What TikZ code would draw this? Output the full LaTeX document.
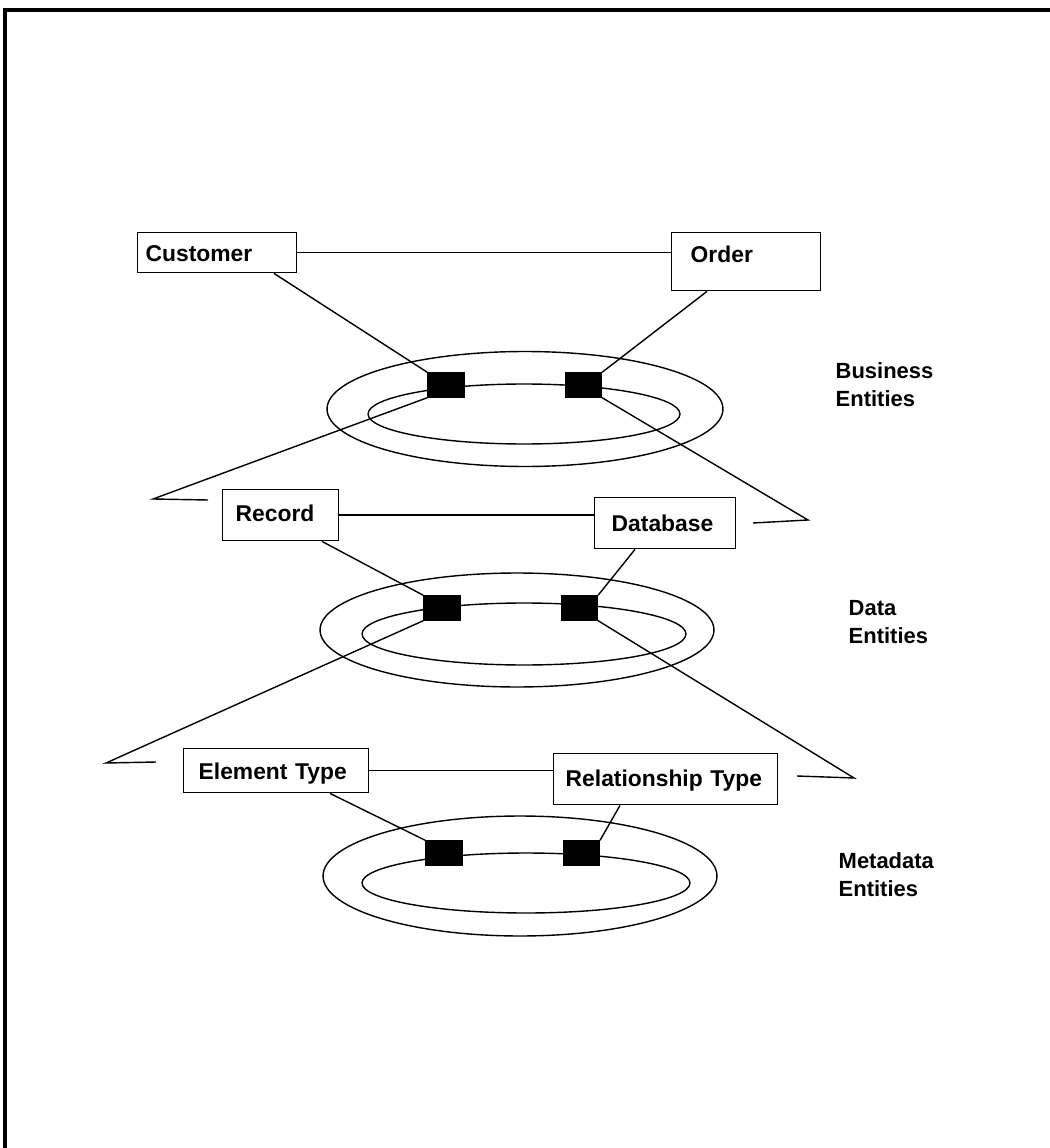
\documentclass[tikz,border=0pt]{standalone}
\usepackage{fontspec}
\setmainfont{Liberation Sans}
\usetikzlibrary{positioning}
\tikzset{
  entbox/.style = {draw=black, anchor=north west, align=left, inner ysep=0pt,
    font=\fontsize{13}{16}\selectfont\bfseries},% entity box
  keysq/.style = {rectangle, fill=black, draw=black, inner sep=0pt,
    minimum width=0.72cm, minimum height=0.48cm},% black key on the ring
  lvl_lbl/.style = {anchor=north west, align=left, inner sep=0pt,
    font=\fontsize{12.5}{16}\selectfont\bfseries}% level label
}
\begin{document}
\begin{tikzpicture}[x=0.02cm, y=-0.02cm, line width=0.8pt]
  \useasboundingbox (0,0) rectangle (1050,1148);
  \draw[line width=1.8pt] (5,1148) -- (5,10) -- (1050,10);

  % business entities
  \node[entbox, text width=2.86cm, inner xsep=0.16cm, text height=0.57cm, text depth=0.23cm]
    (customer) at (137,232) {Customer};
  \node[entbox, text width=2.22cm, inner xsep=0.38cm, text height=0.59cm, text depth=0.57cm]
    (order) at (671,232) {Order};
  \draw (customer.east) -- (customer.east -| order.west);
  \draw (525,409) ellipse [x radius=3.96cm, y radius=1.15cm];
  \draw (524,414) ellipse [x radius=3.12cm, y radius=0.6cm];
  \node[keysq] (bsq1) at (446,385) {};
  \node[keysq, right=2cm of bsq1] (bsq2) {};
  \draw ([xshift=2.74cm]customer.south west) -- (bsq1.north west);
  \draw ([xshift=0.72cm]order.south west) -- (bsq2.north east);
  \node[lvl_lbl] (busl) at (835,362) {Business\\Entities};

  % data entities
  \node[entbox, text width=1.8cm, inner xsep=0.26cm, text height=0.63cm, text depth=0.39cm]
    (record) at (222,489) {Record};
  \node[entbox, text width=2.14cm, inner xsep=0.34cm, text height=0.67cm, text depth=0.35cm]
    (database) at (594,497) {Database};
  \draw (record.east) -- (record.east -| database.west);
  \coordinate (btipl) at (153,499);
  \coordinate (btipr) at (808,520);
  \draw (bsq1.south west) -- (btipl) -- (208,500);
  \draw (bsq2.south east) -- (btipr) -- (753,523);
  \draw (517,630) ellipse [x radius=3.94cm, y radius=1.14cm];
  \draw (524,634) ellipse [x radius=3.24cm, y radius=0.62cm];
  \node[keysq] (dsq1) at (442,608) {};
  \node[keysq, right=2cm of dsq1] (dsq2) {};
  \draw ([xshift=2.0cm]record.south west) -- (dsq1.north west);
  \draw ([xshift=0.82cm]database.south west) -- (dsq2.north east);
  \node[lvl_lbl] (datl) at (848,600) {Data\\Entities};

  % metadata entities
  \node[entbox, text width=3.1cm, inner xsep=0.3cm, text height=0.61cm, text depth=0.27cm]
    (elemtype) at (183,748) {Element~Type};
  \node[entbox, text width=4.0cm, inner xsep=0.24cm, text height=0.65cm, text depth=0.37cm]
    (reltype) at (553,753) {Relationship~Type};
  \draw (elemtype.east) -- (elemtype.east -| reltype.west);
  \coordinate (dtipl) at (106,763);
  \coordinate (dtipr) at (854,778);
  \draw (dsq1.south west) -- (dtipl) -- (156,762);
  \draw (dsq2.south east) -- (dtipr) -- (797,776);
  \draw (520,876) ellipse [x radius=3.94cm, y radius=1.2cm];
  \draw (526,883) ellipse [x radius=3.28cm, y radius=0.6cm];
  \node[keysq] (msq1) at (444,853) {};
  \node[keysq, right=2cm of msq1] (msq2) {};
  \draw ([xshift=2.94cm]elemtype.south west) -- (msq1.north west);
  \draw ([xshift=1.34cm]reltype.south west) -- (msq2.north east);
  \node[lvl_lbl] (metl) at (838,852) {Metadata\\Entities};
\end{tikzpicture}
\end{document}
